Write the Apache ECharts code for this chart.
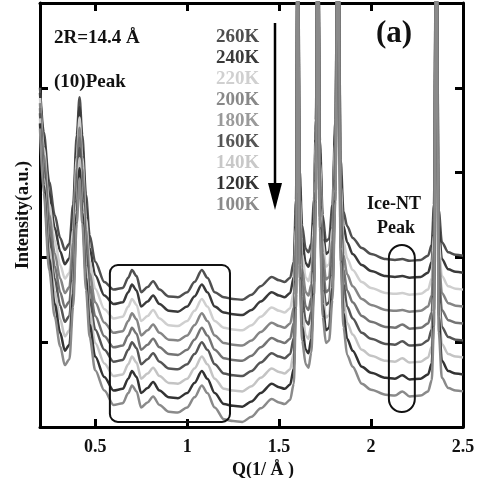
<!DOCTYPE html>
<html>
<head>
<meta charset="utf-8">
<script src="https://cdn.jsdelivr.net/npm/echarts@6/dist/echarts.min.js"></script>
<style>
html, body { margin: 0; padding: 0; background: #fff; }
#chart { width: 481px; height: 478px; }
</style>
</head>
<body>
<div id="chart"></div>
<script>
// Q grid shared by all spectra (1/Å)
const q = [0.20, 0.22, 0.25, 0.28, 0.31, 0.335, 0.36, 0.38, 0.40, 0.415,
  0.43, 0.45, 0.47, 0.50, 0.55, 0.60, 0.65, 0.68, 0.70, 0.725,
  0.75, 0.785, 0.815, 0.85, 0.90, 0.95, 1.00, 1.04, 1.08, 1.11,
  1.15, 1.20, 1.25, 1.30, 1.35, 1.40, 1.46, 1.50, 1.53, 1.56,
  1.58, 1.592, 1.602, 1.612, 1.625, 1.645, 1.66, 1.675, 1.69, 1.70,
  1.711, 1.722, 1.737, 1.755, 1.772, 1.79, 1.806, 1.82, 1.835, 1.85,
  1.87, 1.90, 1.95, 2.00, 2.08, 2.13, 2.17, 2.21, 2.27, 2.31,
  2.33, 2.342, 2.355, 2.368, 2.385, 2.42, 2.46, 2.50];

const temps = ['260K', '240K', '220K', '200K', '180K', '160K', '140K', '120K', '100K'];

// intensity (a.u., curves shifted for display), one array per temperature
const i260 = [4.00, 3.48, 2.89, 2.50, 2.23, 2.09, 2.16, 2.62, 3.44, 3.89,
  3.44, 2.74, 2.26, 1.95, 1.71, 1.62, 1.64, 1.76, 1.85, 1.78,
  1.59, 1.65, 1.72, 1.62, 1.54, 1.53, 1.59, 1.71, 1.85, 1.76,
  1.59, 1.53, 1.51, 1.50, 1.56, 1.66, 1.77, 1.73, 1.71, 1.76,
  1.95, 2.68, 6.5, 3.03, 2.38, 2.10, 2.06, 2.16, 2.68, 3.62,
  6.5, 3.38, 2.50, 2.19, 2.22, 2.62, 3.62, 6.5, 3.15, 2.54,
  2.37, 2.23, 2.11, 2.04, 1.98, 1.97, 1.98, 1.96, 1.97, 2.02,
  2.15, 2.62, 6.5, 2.56, 2.18, 2.06, 2.03, 2.02];
const i240 = [3.94, 3.39, 2.76, 2.35, 2.07, 1.92, 1.99, 2.47, 3.31, 3.77,
  3.31, 2.60, 2.11, 1.79, 1.55, 1.45, 1.47, 1.59, 1.68, 1.61,
  1.42, 1.48, 1.55, 1.45, 1.37, 1.36, 1.42, 1.54, 1.68, 1.59,
  1.42, 1.35, 1.33, 1.32, 1.38, 1.48, 1.59, 1.55, 1.53, 1.58,
  1.77, 2.52, 6.5, 2.87, 2.21, 1.93, 1.89, 2.00, 2.54, 3.50,
  6.5, 3.25, 2.35, 2.04, 2.07, 2.48, 3.50, 6.5, 3.00, 2.37,
  2.18, 2.04, 1.91, 1.84, 1.78, 1.77, 1.78, 1.76, 1.77, 1.82,
  1.95, 2.44, 6.5, 2.38, 1.98, 1.86, 1.83, 1.82];
const i220 = [3.88, 3.30, 2.63, 2.20, 1.91, 1.75, 1.82, 2.32, 3.18, 3.65,
  3.18, 2.46, 1.96, 1.63, 1.39, 1.28, 1.30, 1.42, 1.51, 1.44,
  1.25, 1.31, 1.38, 1.28, 1.20, 1.19, 1.25, 1.37, 1.51, 1.42,
  1.25, 1.17, 1.15, 1.14, 1.20, 1.30, 1.41, 1.37, 1.35, 1.40,
  1.59, 2.36, 6.5, 2.71, 2.04, 1.76, 1.72, 1.84, 2.40, 3.38,
  6.5, 3.12, 2.20, 1.89, 1.92, 2.34, 3.38, 6.5, 2.85, 2.20,
  1.99, 1.85, 1.71, 1.64, 1.58, 1.57, 1.58, 1.56, 1.57, 1.62,
  1.75, 2.26, 6.5, 2.20, 1.78, 1.66, 1.63, 1.62];
const i200 = [3.82, 3.21, 2.50, 2.05, 1.75, 1.58, 1.65, 2.17, 3.05, 3.53,
  3.05, 2.32, 1.81, 1.47, 1.23, 1.11, 1.13, 1.25, 1.34, 1.27,
  1.08, 1.14, 1.21, 1.11, 1.03, 1.02, 1.08, 1.20, 1.34, 1.25,
  1.08, 0.99, 0.97, 0.96, 1.02, 1.12, 1.23, 1.19, 1.17, 1.22,
  1.41, 2.20, 6.5, 2.55, 1.87, 1.59, 1.55, 1.68, 2.26, 3.26,
  6.5, 2.99, 2.05, 1.74, 1.77, 2.20, 3.26, 6.5, 2.70, 2.03,
  1.80, 1.66, 1.51, 1.44, 1.38, 1.37, 1.38, 1.36, 1.37, 1.42,
  1.55, 2.08, 6.5, 2.02, 1.58, 1.46, 1.43, 1.42];
const i180 = [3.76, 3.12, 2.37, 1.90, 1.59, 1.41, 1.48, 2.02, 2.92, 3.41,
  2.92, 2.18, 1.66, 1.31, 1.07, 0.94, 0.96, 1.08, 1.17, 1.10,
  0.91, 0.97, 1.04, 0.94, 0.86, 0.85, 0.91, 1.03, 1.17, 1.08,
  0.91, 0.81, 0.79, 0.78, 0.84, 0.94, 1.05, 1.01, 0.99, 1.04,
  1.23, 2.04, 6.5, 2.39, 1.70, 1.42, 1.38, 1.52, 2.12, 3.14,
  6.5, 2.86, 1.90, 1.59, 1.62, 2.06, 3.14, 6.5, 2.55, 1.86,
  1.61, 1.47, 1.31, 1.24, 1.18, 1.17, 1.21, 1.16, 1.17, 1.22,
  1.35, 1.90, 6.5, 1.84, 1.38, 1.26, 1.23, 1.22];
const i160 = [3.70, 3.03, 2.24, 1.75, 1.43, 1.24, 1.31, 1.87, 2.79, 3.29,
  2.79, 2.04, 1.51, 1.15, 0.91, 0.77, 0.79, 0.91, 1.00, 0.93,
  0.74, 0.80, 0.87, 0.77, 0.69, 0.68, 0.74, 0.86, 1.00, 0.91,
  0.74, 0.63, 0.61, 0.60, 0.66, 0.76, 0.87, 0.83, 0.81, 0.86,
  1.05, 1.88, 6.5, 2.23, 1.53, 1.25, 1.21, 1.36, 1.98, 3.02,
  6.5, 2.73, 1.75, 1.44, 1.47, 1.92, 3.02, 6.5, 2.40, 1.69,
  1.42, 1.28, 1.11, 1.04, 0.98, 0.97, 1.01, 0.96, 0.97, 1.02,
  1.15, 1.72, 6.5, 1.66, 1.18, 1.06, 1.03, 1.02];
const i140 = [3.64, 2.94, 2.11, 1.60, 1.27, 1.07, 1.14, 1.72, 2.66, 3.17,
  2.66, 1.90, 1.36, 0.99, 0.75, 0.60, 0.62, 0.74, 0.83, 0.76,
  0.57, 0.63, 0.70, 0.60, 0.52, 0.51, 0.57, 0.69, 0.83, 0.74,
  0.57, 0.45, 0.43, 0.42, 0.48, 0.58, 0.69, 0.65, 0.63, 0.68,
  0.87, 1.72, 6.5, 2.07, 1.36, 1.08, 1.04, 1.20, 1.84, 2.90,
  6.5, 2.60, 1.60, 1.29, 1.32, 1.78, 2.90, 6.5, 2.25, 1.52,
  1.23, 1.09, 0.91, 0.84, 0.78, 0.77, 0.81, 0.76, 0.77, 0.82,
  0.95, 1.54, 6.5, 1.48, 0.98, 0.86, 0.83, 0.82];
const i120 = [3.58, 2.85, 1.98, 1.45, 1.11, 0.90, 0.97, 1.57, 2.53, 3.05,
  2.53, 1.76, 1.21, 0.83, 0.59, 0.43, 0.45, 0.57, 0.66, 0.59,
  0.40, 0.46, 0.53, 0.43, 0.35, 0.34, 0.40, 0.52, 0.66, 0.57,
  0.40, 0.27, 0.25, 0.24, 0.30, 0.40, 0.51, 0.47, 0.45, 0.50,
  0.69, 1.56, 6.5, 1.91, 1.19, 0.91, 0.87, 1.04, 1.70, 2.78,
  6.5, 2.47, 1.45, 1.14, 1.17, 1.64, 2.78, 6.5, 2.10, 1.35,
  1.04, 0.90, 0.71, 0.64, 0.58, 0.57, 0.61, 0.56, 0.57, 0.62,
  0.75, 1.36, 6.5, 1.30, 0.78, 0.66, 0.63, 0.62];
const i100 = [3.52, 2.76, 1.85, 1.30, 0.95, 0.73, 0.80, 1.42, 2.40, 2.93,
  2.40, 1.62, 1.06, 0.67, 0.43, 0.26, 0.28, 0.40, 0.49, 0.42,
  0.23, 0.29, 0.36, 0.26, 0.18, 0.17, 0.23, 0.35, 0.49, 0.40,
  0.23, 0.09, 0.07, 0.06, 0.12, 0.22, 0.33, 0.29, 0.27, 0.32,
  0.51, 1.40, 6.5, 1.75, 1.02, 0.74, 0.70, 0.88, 1.56, 2.66,
  6.5, 2.34, 1.30, 0.99, 1.02, 1.50, 2.66, 6.5, 1.95, 1.18,
  0.85, 0.71, 0.51, 0.44, 0.38, 0.37, 0.42, 0.36, 0.37, 0.42,
  0.55, 1.18, 6.5, 1.12, 0.58, 0.46, 0.43, 0.42];

const curves = [i260, i240, i220, i200, i180, i160, i140, i120, i100];
const lineColors = ['#505050', '#3a3a3a', '#cfcfcf', '#858585', '#747474', '#555555', '#c4c4c4', '#333333', '#8a8a8a'];
const labelColors = ['#4d4d4d', '#3a3a3a', '#d0d0d0', '#888888', '#9a9a9a', '#555555', '#c8c8c8', '#333333', '#8a8a8a'];

const serif = '"Liberation Serif", "Times New Roman", serif';
const ink = '#111';

const chart = echarts.init(document.getElementById('chart'));

const series = curves.map((vals, k) => ({
    name: temps[k],
    type: 'line',
    data: q.map((x, j) => [x, vals[j]]),
    showSymbol: false,
    smooth: 0.3,
    smoothMonotone: 'x',
    clip: true,
    lineStyle: { color: lineColors[k], width: 2.5 },
    itemStyle: { color: lineColors[k] },
    z: 2
}));

const frame = {
    axisLine: { onZero: false, lineStyle: { color: '#000', width: 3 } },
    axisTick: { inside: true, length: 8, lineStyle: { color: '#000', width: 3 } },
    splitLine: { show: false }
};

const bold = (size) => ({ fontFamily: serif, fontWeight: 'bold', fontSize: size, color: ink });

chart.setOption({
    animation: false,
    grid: { left: 40, right: 18, top: 3, bottom: 51, outerBoundsMode: 'none' },
    legend: {
        orient: 'vertical',
        left: 206,
        top: 23,
        icon: 'none',
        itemWidth: 0,
        itemHeight: 14,
        itemGap: 2,
        selectedMode: false,
        textStyle: { fontFamily: serif, fontWeight: 'bold', fontSize: 19 },
        data: temps.map((t, k) => ({ name: t, textStyle: { color: labelColors[k] } }))
    },
    xAxis: [
        Object.assign({
            type: 'value', min: 0.2, max: 2.5, position: 'bottom',
            axisLabel: Object.assign(bold(18), { margin: 11, showMinLabel: false }),
            name: 'Q(1/ Å )',
            nameLocation: 'middle',
            nameGap: 30,
            nameTextStyle: Object.assign(bold(18), { padding: [0, 0, 0, 23] })
        }, frame),
        Object.assign({
            type: 'value', min: 0.2, max: 2.5, position: 'top',
            axisLabel: { show: false }
        }, frame)
    ],
    yAxis: [
        Object.assign({
            type: 'value', min: 0, max: 5, interval: 1, position: 'left',
            axisLabel: { show: false },
            name: 'Intensity(a.u.)',
            nameLocation: 'middle',
            nameGap: 8,
            nameTextStyle: bold(18)
        }, frame),
        Object.assign({
            type: 'value', min: 0, max: 5, interval: 1, position: 'right',
            axisLabel: { show: false }
        }, frame)
    ],
    series: series
});

// rounded boxes marking the regions discussed, placed in data coordinates
const boxes = [
    { q0: 0.58, q1: 1.233, y0: 0.06, y1: 1.91, r: 8 },
    { q0: 2.097, q1: 2.238, y0: 0.177, y1: 2.146, r: 13 }
];
const boxShapes = boxes.map((b) => {
    const p0 = chart.convertToPixel({ gridIndex: 0 }, [b.q0, b.y1]);
    const p1 = chart.convertToPixel({ gridIndex: 0 }, [b.q1, b.y0]);
    return {
        type: 'rect',
        z: 10,
        shape: { x: p0[0], y: p0[1], width: p1[0] - p0[0], height: p1[1] - p0[1], r: b.r },
        style: { fill: 'none', stroke: ink, lineWidth: 2 }
    };
});

const label = (text, x, y, size, align) => ({
    type: 'text', x: x, y: y, z: 10,
    style: {
        text: text, fill: ink, fontFamily: serif, fontWeight: 'bold', fontSize: size,
        align: align || 'left', verticalAlign: 'middle'
    }
});

chart.setOption({
    graphic: boxShapes.concat([
        label('2R=14.4 Å', 54, 38, 19),
        label('(10)Peak', 54, 82, 19),
        label('(a)', 376, 34, 31),
        label('Ice-NT', 394, 204, 18, 'center'),
        label('Peak', 396, 228, 18, 'center'),
        {
            type: 'line', z: 10,
            shape: { x1: 275, y1: 23, x2: 275, y2: 190 },
            style: { stroke: '#000', lineWidth: 2.5 }
        },
        {
            type: 'polygon', z: 10,
            shape: { points: [[268, 183], [282, 183], [275, 210]] },
            style: { fill: '#000' }
        }
    ])
});
</script>
</body>
</html>
